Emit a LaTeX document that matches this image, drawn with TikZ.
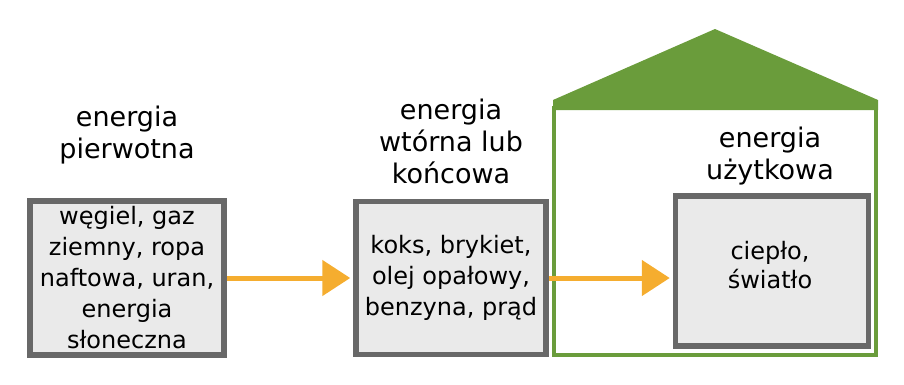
\documentclass[tikz,border=0pt]{standalone}
\usepackage{fontspec}
\setmainfont{DejaVu Sans}
\usetikzlibrary{arrows.meta,calc}
\definecolor{boxfill}{HTML}{EAEAEA}
\definecolor{boxline}{HTML}{686868}
\definecolor{housegreen}{HTML}{6A9C3B}
\definecolor{flow}{HTML}{F5AD2F}

\begin{document}
\begin{tikzpicture}[x=1pt,y=-1pt,
  box/.style={draw=boxline,fill=boxfill,line width=5.5pt,inner sep=0pt,align=center,
    font=\fontsize{24}{31}\selectfont},
  title/.style={align=center,font=\fontsize{27}{32}\selectfont},
  flowarrow/.style={draw=flow,line width=5pt,shorten >=3pt,
    -{Triangle[length=28pt,width=35pt]}}]
\useasboundingbox (0,0) rectangle (904,384);
% House
\draw[housegreen,line width=4pt] (554,108) rectangle (876,355);
\fill[housegreen] (553,110) -- (553,100) -- (715,29) -- (878,100) -- (878,110) -- cycle;
% Boxes
\node[box,minimum width=194pt,minimum height=154pt] (primary) at (127,278)
  {węgiel, gaz\\ziemny, ropa\\naftowa, uran,\\energia\\słoneczna};
\node[box,minimum width=190pt,minimum height=153pt] (secondary) at (451,278)
  {koks, brykiet,\\olej opałowy,\\benzyna, prąd};
\node[box,minimum width=193pt,minimum height=150pt] (useful) at (772,271) {};
\node[font=\fontsize{24}{29}\selectfont,align=center] (usefultext) at (770,265) {ciepło,\\światło};
% Titles
\node[title] (primarytitle) at (127,135) {energia\\pierwotna};
\node[title] (secondarytitle) at (451,141) {energia\\wtórna lub\\końcowa};
\node[title] (usefultitle) at (770,156) {energia\\użytkowa};
% Flows
\draw[flowarrow] (primary.east) -- (primary.east -| secondary.west);
\draw[flowarrow] (secondary.east) -- (secondary.east -| useful.west);
\end{tikzpicture}
\end{document}
